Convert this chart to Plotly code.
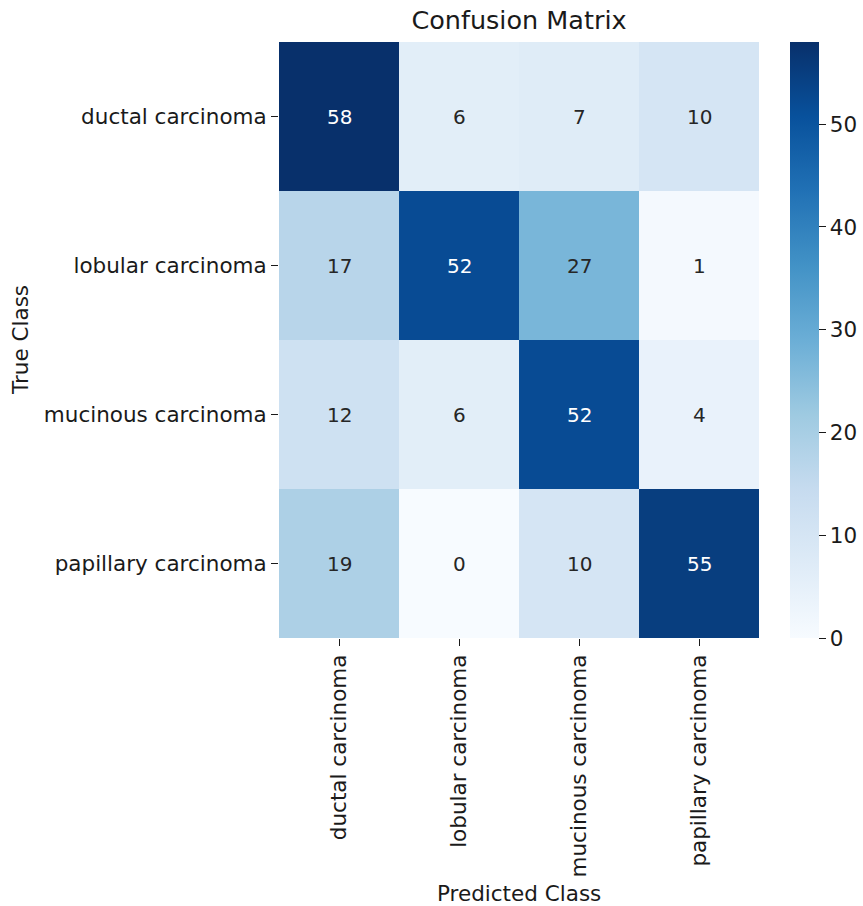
import plotly.graph_objects as go

classes = ["ductal carcinoma", "lobular carcinoma", "mucinous carcinoma", "papillary carcinoma"]
counts = [
    [58, 6, 7, 10],
    [17, 52, 27, 1],
    [12, 6, 52, 4],
    [19, 0, 10, 55],
]
cbar_ticks = [0, 10, 20, 30, 40, 50]

# matplotlib "Blues" (ColorBrewer, 9 stops)
blues = ["#f7fbff", "#deebf7", "#c6dbef", "#9ecae1", "#6baed6",
         "#4292c6", "#2171b5", "#08519c", "#08306b"]
colorscale = [[i / (len(blues) - 1), c] for i, c in enumerate(blues)]

zmax = max(max(r) for r in counts)

W, H = 863, 906
L, R, T, B = 279, 104, 42, 268
font = "DejaVu Sans"
ink = "#1a1a1a"
fs = 21.5

fig = go.Figure(go.Heatmap(
    z=counts, x=classes, y=classes,
    colorscale=colorscale, zmin=0, zmax=zmax,
    xgap=0, ygap=0,
    colorbar=dict(
        x=(790 - L) / (W - L - R), xanchor="left", xref="paper",
        y=0.5, yanchor="middle", len=1.0, lenmode="fraction",
        thickness=29, outlinewidth=0, xpad=0, ypad=0,
        tickvals=cbar_ticks, ticks="outside", ticklen=7, tickwidth=1,
        tickcolor=ink, tickfont=dict(family=font, size=fs, color=ink),
    ),
    hoverinfo="skip",
))

# value labels, white on dark cells
for i, row in enumerate(counts):
    for j, v in enumerate(row):
        fig.add_annotation(
            x=classes[j], y=classes[i], text=str(v), showarrow=False,
            font=dict(family=font, size=20,
                      color="white" if v / zmax > 0.6 else "#262626"),
        )

fig.add_annotation(text="Predicted Class", xref="paper", yref="paper",
                   x=0.5, y=0, yshift=-(893 - (H - B)), xanchor="center",
                   yanchor="middle", showarrow=False,
                   font=dict(family=font, size=fs, color=ink))
fig.add_annotation(text="True Class", xref="paper", yref="paper",
                   x=0, xshift=-(L - 20), y=0.5, xanchor="center",
                   yanchor="middle", textangle=-90, showarrow=False,
                   font=dict(family=font, size=fs, color=ink))

fig.update_layout(
    width=W, height=H,
    margin=dict(l=L, r=R, t=T, b=B, pad=0, autoexpand=False),
    paper_bgcolor="white", plot_bgcolor="white",
    title=dict(text="Confusion Matrix", x=(L + 240) / W, xanchor="center",
               y=1 - 20 / H, yanchor="middle",
               font=dict(family=font, size=25.5, color=ink)),
    xaxis=dict(tickangle=-90, ticks="outside", ticklen=7, tickcolor=ink,
               tickfont=dict(family=font, size=fs, color=ink),
               showgrid=False, zeroline=False, showline=False),
    yaxis=dict(autorange="reversed", ticks="outside", ticklen=7, tickcolor=ink,
               tickfont=dict(family=font, size=fs, color=ink),
               showgrid=False, zeroline=False, showline=False),
)

fig.write_html("out.html")
